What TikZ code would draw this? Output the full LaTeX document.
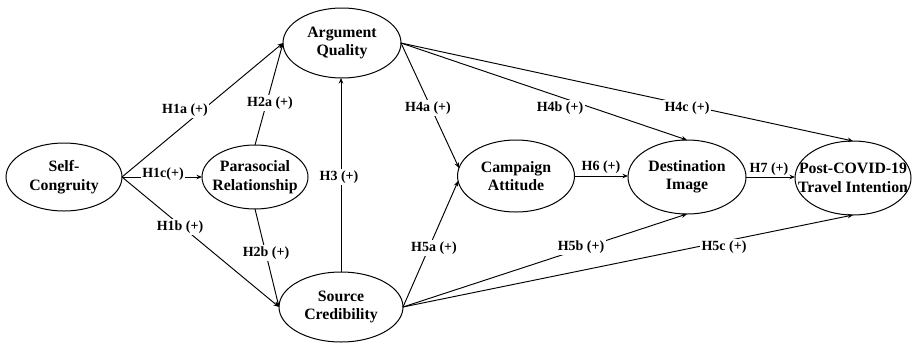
\documentclass[tikz,border=0pt]{standalone}
\usepackage{fontspec}
\setmainfont{Liberation Serif}
\usetikzlibrary{shapes.geometric,arrows.meta}
\begin{document}
\begin{tikzpicture}[x=1pt,y=-1pt,
  var/.style={ellipse,draw,line width=1pt,inner sep=0pt,outer sep=0pt},
  vtext/.style={font=\fontsize{15.8}{18.5}\selectfont\bfseries,align=center,inner sep=0pt},
  lbl/.style={font=\fontsize{14}{16}\selectfont\bfseries,fill=white,inner sep=1.5pt},
  lblnf/.style={font=\fontsize{14}{16}\selectfont\bfseries,inner sep=1pt},
  arr/.style={line width=0.95pt,-{Stealth[length=5.5pt,width=4.5pt]}},
  ln/.style={line width=0.95pt}]
\useasboundingbox (0,0) rectangle (912,343);
% constructs
\node[var,minimum width=116pt,minimum height=68pt,label={[vtext]center:Self-\\Congruity}] (SelfC) at (64,177) {};
\node[var,minimum width=118pt,minimum height=70pt,label={[vtext]center:Argument\\Quality}] (AQ) at (342,43) {};
\node[var,minimum width=106pt,minimum height=64pt,label={[vtext]center:Parasocial\\Relationship}] (PR) at (255,177) {};
\node[var,minimum width=124pt,minimum height=70pt,label={[vtext]center:Source\\Credibility}] (SC) at (341,307) {};
\node[var,minimum width=117pt,minimum height=72pt,label={[vtext]center:Campaign\\Attitude}] (CA) at (516,176) {};
\node[var,minimum width=118pt,minimum height=74pt,label={[vtext]center:Destination\\Image}] (DI) at (687,177) {};
\node[var,minimum width=116pt,minimum height=74pt,label={[vtext]center:Post-COVID-19\\Travel Intention}] (PC) at (853,178) {};
% paths
\draw[arr] (SelfC.east) -- (AQ.west);
\draw[arr] (SelfC.east) -- (PR.west);
\draw[arr] (SelfC.east) -- (SC.west);
\draw[arr] (PR.north) -- (AQ.west);
\draw[arr] (PR.south) -- (SC.west);
\draw[arr] (SC.north) -- (SC.north |- AQ.south);
\draw[arr] (AQ.east) -- (CA.172);
\draw[arr] (AQ.east) -- (DI.north);
\draw[arr] (AQ.east) -- (PC.north);
\draw[arr] (SC.east) -- (CA.185);
\draw[arr] (SC.east) -- (DI.south);
\draw[arr] (SC.east) -- (PC.south);
\draw[arr] (CA.east) -- (CA.east -| DI.west);
\draw[arr] (DI.east) -- (DI.east -| PC.west);
% labels
\node[lbl] (h1a) at (185,110) {H1a (+)};
\node[lbl] (h1c) at (163,174) {H1c(+)};
\node[lbl] (h1b) at (180,227) {H1b (+)};
\node[lbl] (h2a) at (270,103) {H2a (+)};
\node[lbl] (h2b) at (266,253) {H2b (+)};
\node[lbl] (h3) at (339,177) {H3 (+)};
\node[lbl] (h4a) at (428,108) {H4a (+)};
\node[lbl] (h4b) at (560,108) {H4b (+)};
\node[lbl] (h4c) at (687,108) {H4c (+)};
\node[lbl] (h5a) at (434,248) {H5a (+)};
\node[lbl] (h5b) at (581,247) {H5b (+)};
\node[lbl] (h5c) at (724,247) {H5c (+)};
\node[lblnf] (h6) at (601,167) {H6 (+)};
\node[lblnf] (h7) at (769,169) {H7 (+)};
\end{tikzpicture}
\end{document}
